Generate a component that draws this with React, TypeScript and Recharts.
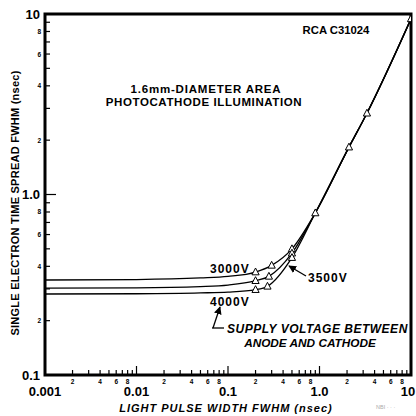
import React from 'react';
import { ComposedChart, Line, Scatter, XAxis, YAxis, ReferenceArea } from 'recharts';

// Flat (left) part of the curves, no markers
const flatX = [0.001, 0.01, 0.05, 0.1];
const v3000Flat = [0.336, 0.338, 0.345, 0.352];
const v3500Flat = [0.303, 0.304, 0.309, 0.315];
const v4000Flat = [0.281, 0.282, 0.285, 0.288];

// Marked points where the curves separate
const v3000MarkX = [0.2, 0.3, 0.5];
const v3000MarkY = [0.372, 0.405, 0.5];
const v3500MarkX = [0.2, 0.28, 0.5];
const v3500MarkY = [0.333, 0.352, 0.473];
const v4000MarkX = [0.2, 0.27, 0.5];
const v4000MarkY = [0.297, 0.31, 0.447];

// Common branch (all voltages coincide)
const commonX = [0.9, 2.1, 3.3, 10];
const commonY = [0.79, 1.83, 2.82, 9.4];

const xMajorTicks = [0.001, 0.01, 0.1, 1, 10];
const xMajorLabels = ['0.001', '0.01', '0.1', '1.0', '10'];
const yMajorTicks = [0.1, 1, 10];
const yMajorLabels = ['0.1', '1.0', '10'];
const minorMultipliers = [2, 3, 4, 5, 6, 7, 8, 9];
const labeledMinors = [2, 4, 6, 8];

const zip = (xs: number[], ys: number[]) => xs.map((x, i) => ({ x, y: ys[i] }));

const s3000 = [...zip(flatX, v3000Flat), ...zip(v3000MarkX, v3000MarkY), ...zip(commonX, commonY)];
const s3500 = [...zip(flatX, v3500Flat), ...zip(v3500MarkX, v3500MarkY), ...zip(commonX, commonY)];
const s4000 = [...zip(flatX, v4000Flat), ...zip(v4000MarkX, v4000MarkY), ...zip(commonX, commonY)];
const marks = [
  ...zip(v3000MarkX, v3000MarkY),
  ...zip(v3500MarkX, v3500MarkY),
  ...zip(v4000MarkX, v4000MarkY),
  ...zip(commonX, commonY),
];

const buildTicks = (majors: number[]) => {
  const t: number[] = [];
  majors.forEach((d, i) => {
    t.push(d);
    if (i < majors.length - 1) minorMultipliers.forEach((m) => t.push(parseFloat((d * m).toPrecision(6))));
  });
  return t;
};
const xTicks = buildTicks(xMajorTicks);
const yTicks = buildTicks(yMajorTicks);

const decompose = (v: number) => {
  const e = Math.floor(Math.log10(v) + 1e-9);
  return Math.round(v / Math.pow(10, e));
};
const majorIndex = (v: number, majors: number[]) => majors.findIndex((t) => Math.abs(t - v) / t < 1e-6);

const FONT = '"Liberation Sans", Arial, sans-serif';

const XTick = (props: any) => {
  const { x, y, payload } = props;
  const v = payload.value;
  const mi = majorIndex(v, xMajorTicks);
  const ml = mi >= 0 ? xMajorLabels[mi] : null;
  const m = decompose(v);
  const len = ml ? 9 : 5;
  const isLast = mi === xMajorTicks.length - 1;
  return (
    <g>
      <line x1={x} y1={y} x2={x} y2={y - len} stroke="#000" strokeWidth={1.2} />
      {ml && (
        <text
          x={isLast ? x - 3 : x}
          y={y + 21}
          textAnchor="middle"
          fontFamily={FONT}
          fontWeight="bold"
          fontSize={13}
          fill="#000"
        >
          {ml}
        </text>
      )}
      {!ml && labeledMinors.includes(m) && (
        <text x={x} y={y + 9} textAnchor="middle" fontFamily={FONT} fontWeight="bold" fontSize={6.5} fill="#000">
          {m}
        </text>
      )}
    </g>
  );
};

const YTick = (props: any) => {
  const { x, y, payload } = props;
  const v = payload.value;
  const mi = majorIndex(v, yMajorTicks);
  const ml = mi >= 0 ? yMajorLabels[mi] : null;
  const m = decompose(v);
  const len = ml ? 11 : 5;
  return (
    <g>
      <line x1={x} y1={y} x2={x + len} y2={y} stroke="#000" strokeWidth={1.2} />
      {ml && (
        <text x={x - 5} y={y + 4.5} textAnchor="end" fontFamily={FONT} fontWeight="bold" fontSize={13} fill="#000">
          {ml}
        </text>
      )}
      {!ml && labeledMinors.includes(m) && (
        <text x={x - 4} y={y + 2.5} textAnchor="end" fontFamily={FONT} fontWeight="bold" fontSize={6.5} fill="#000">
          {m}
        </text>
      )}
    </g>
  );
};

const Triangle = (props: any) => {
  const { cx, cy } = props;
  if (cx == null || cy == null) return null;
  return (
    <polygon
      points={`${cx},${cy - 4} ${cx - 3.6},${cy + 2.8} ${cx + 3.6},${cy + 2.8}`}
      fill="#fff"
      stroke="#000"
      strokeWidth={1}
    />
  );
};

export default function App() {
  return (
    <div style={{ position: 'absolute', left: 0, top: 0, width: 416, height: 416, background: '#fff' }}>
      <ComposedChart width={416} height={416} margin={{ top: 14, right: 5, bottom: 0, left: 0 }}>
        <XAxis
          dataKey="x"
          type="number"
          scale="log"
          domain={[0.001, 10]}
          ticks={xTicks}
          interval={0}
          allowDataOverflow
          axisLine={false}
          tickLine={false}
          tickSize={0}
          tickMargin={0}
          height={41}
          tick={<XTick />}
        />
        <YAxis
          dataKey="y"
          type="number"
          scale="log"
          domain={[0.1, 10]}
          ticks={yTicks}
          interval={0}
          allowDataOverflow
          axisLine={false}
          tickLine={false}
          tickSize={0}
          tickMargin={0}
          width={45}
          tick={<YTick />}
        />
        <ReferenceArea x1={0.001} x2={10} y1={0.1} y2={10} fill="none" stroke="#000" strokeWidth={3} />
        <Line data={s3000} dataKey="y" type="monotone" stroke="#000" strokeWidth={1.3} dot={false} isAnimationActive={false} />
        <Line data={s3500} dataKey="y" type="monotone" stroke="#000" strokeWidth={1.3} dot={false} isAnimationActive={false} />
        <Line data={s4000} dataKey="y" type="monotone" stroke="#000" strokeWidth={1.3} dot={false} isAnimationActive={false} />
        <Scatter data={marks} dataKey="y" shape={<Triangle />} isAnimationActive={false} />
      </ComposedChart>
      <svg
        width={416}
        height={416}
        style={{ position: 'absolute', left: 0, top: 0, pointerEvents: 'none' }}
        fontFamily={FONT}
        fontWeight="bold"
      >
        <defs>
          <marker id="ah" viewBox="0 0 10 10" refX="9" refY="5" markerWidth="6" markerHeight="6" orient="auto-start-reverse">
            <path d="M0,0 L10,5 L0,10 z" fill="#000" />
          </marker>
        </defs>
        <text x={336} y={34} textAnchor="middle" fontSize={11.3}>RCA C31024</text>
        <text x={206} y={93} textAnchor="middle" fontSize={11.5} letterSpacing={0.8}>1.6mm-DIAMETER AREA</text>
        <text x={204} y={105.5} textAnchor="middle" fontSize={11.5} letterSpacing={0.6}>PHOTOCATHODE ILLUMINATION</text>
        <text x={210} y={273} fontSize={12} letterSpacing={1}>3000V</text>
        <text x={210} y={306} fontSize={12} letterSpacing={1}>4000V</text>
        <text x={308} y={282} fontSize={12} letterSpacing={1}>3500V</text>
        <line x1={306} y1={276} x2={289} y2={266} stroke="#000" strokeWidth={1.3} markerEnd="url(#ah)" />
        <line x1={213} y1={328} x2={220} y2={307} stroke="#000" strokeWidth={1.3} markerEnd="url(#ah)" />
        <line x1={212} y1={328} x2={224} y2={328} stroke="#000" strokeWidth={1.3} />
        <text x={227} y={333} fontSize={12} fontStyle="italic" letterSpacing={0.5}>SUPPLY VOLTAGE BETWEEN</text>
        <text x={310} y={347} textAnchor="middle" fontSize={11.8} fontStyle="italic">ANODE AND CATHODE</text>
        <text x={226} y={412} textAnchor="middle" fontSize={11} fontStyle="italic" letterSpacing={1}>
          LIGHT PULSE WIDTH FWHM (nsec)
        </text>
        <text x={19} y={203} textAnchor="middle" fontSize={11} letterSpacing={0.25} transform="rotate(-90, 19, 203)">
          SINGLE ELECTRON TIME SPREAD FWHM (nsec)
        </text>
        <text x={376} y={409} fontSize={5.5} fontWeight="normal" fill="#aaa">NBI · · ·</text>
      </svg>
    </div>
  );
}
